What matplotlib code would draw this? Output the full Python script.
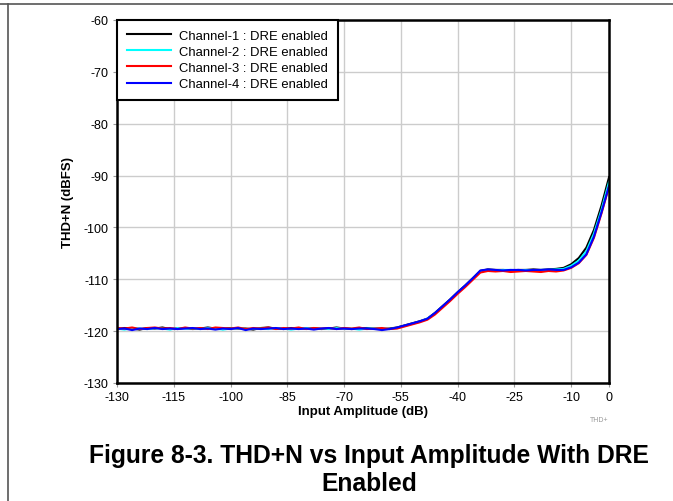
import matplotlib.pyplot as plt
from matplotlib.lines import Line2D

plt.rcParams['font.family'] = ['Liberation Sans', 'DejaVu Sans']
plt.rcParams['axes.unicode_minus'] = False

# input amplitude (dB), one sample every 2 dB
amp = [-130, -128, -126, -124, -122, -120, -118, -116, -114, -112,
       -110, -108, -106, -104, -102, -100, -98, -96, -94, -92,
       -90, -88, -86, -84, -82, -80, -78, -76, -74, -72,
       -70, -68, -66, -64, -62, -60, -58, -56, -54, -52,
       -50, -48, -46, -44, -42, -40, -38, -36, -34, -32,
       -30, -28, -26, -24, -22, -20, -18, -16, -14, -12,
       -10, -8, -6, -4, -2, 0]

ch1 = [-119.6, -119.4, -119.5, -119.7, -119.4, -119.5, -119.3, -119.6, -119.5, -119.4,
       -119.6, -119.5, -119.3, -119.5, -119.6, -119.4, -119.5, -119.5, -119.7, -119.4,
       -119.3, -119.5, -119.6, -119.4, -119.5, -119.5, -119.4, -119.6, -119.5, -119.3,
       -119.5, -119.6, -119.5, -119.4, -119.5, -119.6, -119.5, -119.3, -118.9, -118.5,
       -118.1, -117.6, -116.5, -115.2, -113.9, -112.5, -111.2, -109.8, -108.4, -108.1,
       -108.2, -108.2, -108.3, -108.2, -108.2, -108.1, -108.2, -108.1, -108.0, -107.8,
       -107.1, -105.9, -103.9, -100.5, -95.8, -90.3]

ch2 = [-119.5, -119.7, -119.4, -119.5, -119.6, -119.4, -119.5, -119.7, -119.4, -119.5,
       -119.5, -119.6, -119.4, -119.5, -119.7, -119.5, -119.4, -119.6, -119.5, -119.5,
       -119.6, -119.4, -119.5, -119.7, -119.5, -119.4, -119.5, -119.5, -119.6, -119.4,
       -119.5, -119.5, -119.7, -119.5, -119.4, -119.5, -119.6, -119.4, -119.0, -118.6,
       -118.2, -117.6, -116.6, -115.3, -114.0, -112.6, -111.3, -109.9, -108.5, -108.2,
       -108.3, -108.2, -108.2, -108.3, -108.2, -108.3, -108.2, -108.2, -108.1, -108.0,
       -107.4, -106.4, -104.6, -101.2, -96.6, -91.2]

ch3 = [-119.4, -119.5, -119.3, -119.6, -119.4, -119.3, -119.5, -119.4, -119.6, -119.3,
       -119.5, -119.4, -119.6, -119.3, -119.4, -119.5, -119.3, -119.6, -119.4, -119.5,
       -119.3, -119.6, -119.4, -119.5, -119.3, -119.6, -119.4, -119.5, -119.4, -119.6,
       -119.4, -119.5, -119.3, -119.6, -119.5, -119.4, -119.6, -119.5, -119.1, -118.7,
       -118.3, -117.8, -116.8, -115.5, -114.2, -112.8, -111.5, -110.1, -108.7, -108.4,
       -108.5, -108.4, -108.6, -108.5, -108.4, -108.5, -108.6, -108.4, -108.5, -108.3,
       -107.8, -106.9, -105.3, -102.0, -97.3, -92.1]

ch4 = [-119.6, -119.5, -119.8, -119.5, -119.6, -119.4, -119.6, -119.5, -119.6, -119.5,
       -119.4, -119.6, -119.5, -119.7, -119.5, -119.6, -119.4, -119.8, -119.5, -119.6,
       -119.5, -119.4, -119.6, -119.5, -119.6, -119.5, -119.7, -119.5, -119.4, -119.6,
       -119.5, -119.6, -119.5, -119.5, -119.6, -119.8, -119.6, -119.3, -118.9, -118.5,
       -118.1, -117.6, -116.5, -115.2, -113.9, -112.5, -111.2, -109.8, -108.3, -108.1,
       -108.2, -108.3, -108.2, -108.2, -108.3, -108.2, -108.2, -108.1, -108.2, -108.2,
       -107.7, -106.8, -105.2, -101.8, -97.1, -92.0]

labels = ['Channel-1 : DRE enabled', 'Channel-2 : DRE enabled',
          'Channel-3 : DRE enabled', 'Channel-4 : DRE enabled']
colors = ['black', 'cyan', 'red', 'blue']

xticks = [-130, -115, -100, -85, -70, -55, -40, -25, -10, 0]
yticks = [-130, -120, -110, -100, -90, -80, -70, -60]

fig = plt.figure(figsize=(6.73, 5.02), dpi=100)
ax = fig.add_axes([0.1738, 0.2351, 0.7312, 0.7231])

for y, lab, c in zip([ch1, ch2, ch3, ch4], labels, colors):
    ax.plot(amp, y, color=c, lw=1.5, label=lab)

ax.set_xlim(-130, 0)
ax.set_ylim(-130, -60)
ax.set_xticks(xticks)
ax.set_yticks(yticks)
ax.grid(color='#cccccc', lw=1)
ax.set_axisbelow(True)
for s in ax.spines.values():
    s.set_linewidth(1.8)
ax.tick_params(labelsize=9, length=3, color='#999999', pad=3)
ax.set_xlabel('Input Amplitude (dB)', fontsize=9.5, fontweight='bold', labelpad=1)
ax.set_ylabel('THD+N (dBFS)', fontsize=9.5, fontweight='bold', labelpad=7)

leg = ax.legend(loc='upper left', fontsize=9.4, frameon=True, fancybox=False,
                borderaxespad=0, handlelength=3.4, labelspacing=0.3,
                borderpad=0.75, handletextpad=0.6)
leg.get_frame().set_edgecolor('black')
leg.get_frame().set_linewidth(1.5)
leg.get_frame().set_alpha(1)

fig.text(0.877, 0.16, 'THD+', fontsize=5, color='#999999')

fig.text(0.548, 0.064, 'Figure 8-3. THD+N vs Input Amplitude With DRE\nEnabled',
         ha='center', va='center', fontsize=17.7, fontweight='bold',
         family=['Liberation Sans Narrow', 'Liberation Sans'], linespacing=1.22)

# page frame lines
fig.add_artist(Line2D([0, 1], [0.99, 0.99], color='#555555', lw=1.2))
fig.add_artist(Line2D([0.0115, 0.0115], [0, 0.99], color='#555555', lw=1.2))

fig.savefig('out.png', dpi=100)
